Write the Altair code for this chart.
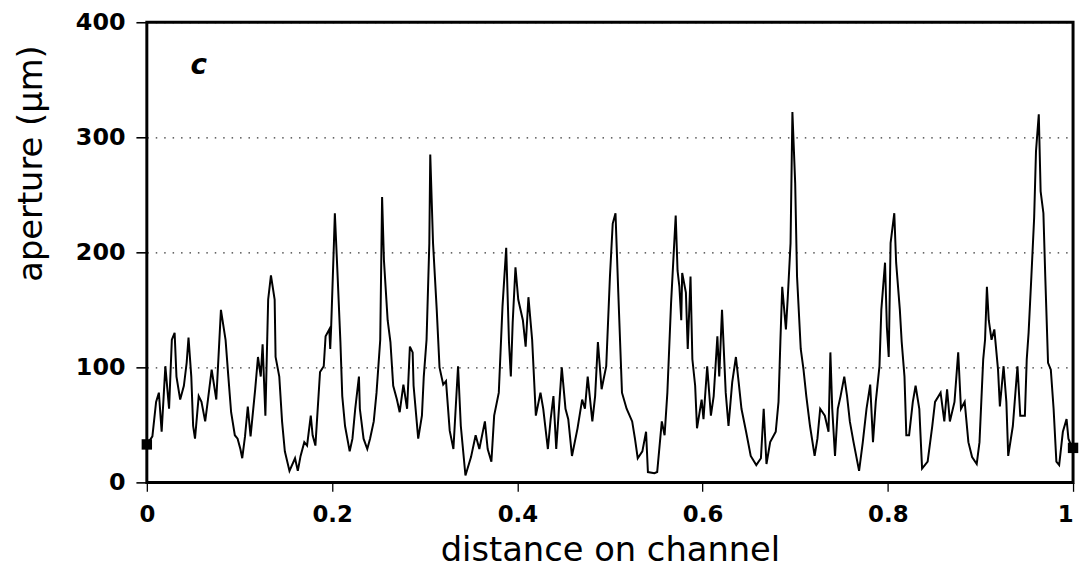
import altair as alt
import pandas as pd

# distance on channel (fraction) and aperture (um)
dist = [
    0.000, 0.002, 0.006, 0.010, 0.013, 0.016, 0.020, 0.024, 0.027, 0.030, 0.032, 0.036, 0.040,
    0.043, 0.045, 0.048, 0.050, 0.052, 0.056, 0.059, 0.063, 0.066, 0.070, 0.075, 0.080,
    0.085, 0.088, 0.091, 0.095, 0.098, 0.101, 0.103, 0.106, 0.109, 0.112, 0.117, 0.120,
    0.123, 0.125, 0.128, 0.131, 0.134, 0.138, 0.139, 0.143, 0.146, 0.149, 0.154, 0.160,
    0.163, 0.166, 0.170, 0.173, 0.177, 0.179, 0.182, 0.187, 0.191, 0.193, 0.197, 0.198,
    0.199, 0.202, 0.203, 0.206, 0.209, 0.211, 0.214, 0.219, 0.222, 0.225, 0.229, 0.230,
    0.234, 0.238, 0.241, 0.245, 0.248, 0.252, 0.254, 0.256, 0.260, 0.263, 0.266, 0.270,
    0.273, 0.277, 0.281, 0.284, 0.287, 0.288, 0.293, 0.297, 0.299, 0.302, 0.305, 0.306,
    0.309, 0.313, 0.316, 0.320, 0.323, 0.327, 0.331, 0.336, 0.339, 0.344, 0.350, 0.355,
    0.359, 0.365, 0.368, 0.372, 0.375, 0.380, 0.384, 0.388, 0.391, 0.393, 0.395, 0.398,
    0.401, 0.406, 0.409, 0.412, 0.416, 0.420, 0.425, 0.428, 0.433, 0.436, 0.439, 0.442,
    0.448, 0.452, 0.455, 0.459, 0.465, 0.470, 0.473, 0.476, 0.481, 0.484, 0.487, 0.491,
    0.496, 0.500, 0.503, 0.506, 0.509, 0.513, 0.518, 0.524, 0.527, 0.530, 0.535, 0.539,
    0.541, 0.548, 0.551, 0.556, 0.559, 0.562, 0.566, 0.571, 0.573, 0.575, 0.577, 0.578,
    0.582, 0.584, 0.587, 0.589, 0.592, 0.594, 0.599, 0.601, 0.605, 0.609, 0.612, 0.616,
    0.618, 0.621, 0.625, 0.628, 0.632, 0.636, 0.639, 0.642, 0.647, 0.652, 0.658, 0.663,
    0.666, 0.669, 0.673, 0.679, 0.682, 0.684, 0.686, 0.690, 0.692, 0.695, 0.697, 0.700,
    0.702, 0.706, 0.709, 0.712, 0.716, 0.721, 0.724, 0.727, 0.732, 0.736, 0.738, 0.740,
    0.743, 0.746, 0.749, 0.753, 0.756, 0.759, 0.763, 0.769, 0.773, 0.777, 0.781, 0.784,
    0.787, 0.791, 0.793, 0.797, 0.799, 0.801, 0.803, 0.807, 0.809, 0.813, 0.815, 0.818,
    0.820, 0.823, 0.827, 0.830, 0.834, 0.837, 0.843, 0.848, 0.851, 0.857, 0.861, 0.864,
    0.867, 0.872, 0.876, 0.879, 0.883, 0.887, 0.891, 0.896, 0.899, 0.903, 0.905, 0.907,
    0.909, 0.912, 0.915, 0.919, 0.921, 0.925, 0.928, 0.930, 0.935, 0.937, 0.940, 0.943,
    0.948, 0.950, 0.952, 0.955, 0.958, 0.960, 0.963, 0.965, 0.968, 0.970, 0.973, 0.976,
    0.979, 0.982, 0.985, 0.989, 0.993, 0.995, 0.998, 1.000,
]
aperture = [
    33, 35, 40, 70, 78, 44, 101, 64, 124, 130, 92, 72, 84,
    104, 126, 92, 49, 38, 75, 70, 53, 72, 98, 72, 150,
    124, 92, 61, 41, 38, 29, 21, 40, 66, 40, 81, 109,
    92, 120, 58, 159, 180, 159, 109, 92, 53, 27, 10, 21,
    10, 23, 35, 32, 58, 41, 32, 96, 101, 127, 133, 116,
    135, 208, 234, 179, 122, 75, 49, 27, 38, 64, 92, 64,
    38, 29, 38, 53, 78, 124, 248, 193, 141, 122, 84, 72,
    61, 85, 64, 118, 113, 84, 38, 58, 92, 124, 208, 285,
    208, 150, 100, 85, 88, 45, 29, 101, 49, 6, 22, 41,
    29, 53, 29, 18, 58, 78, 153, 204, 122, 92, 139, 187,
    159, 141, 118, 161, 124, 58, 78, 64, 29, 55, 75, 29,
    100, 64, 55, 23, 47, 72, 64, 92, 53, 75, 122, 81,
    101, 179, 225, 234, 165, 78, 64, 53, 38, 21, 27, 44,
    9, 8, 9, 53, 41, 78, 156, 232, 184, 170, 141, 182,
    165, 116, 179, 107, 84, 47, 72, 55, 101, 58, 75, 127,
    92, 150, 78, 49, 87, 109, 87, 64, 44, 23, 15, 21,
    64, 16, 35, 44, 70, 122, 170, 133, 161, 208, 322, 260,
    179, 116, 98, 75, 49, 23, 38, 64, 58, 44, 113, 64,
    23, 64, 75, 92, 75, 53, 35, 10, 35, 64, 85, 35,
    70, 101, 150, 191, 135, 109, 208, 234, 191, 150, 122, 92,
    41, 41, 70, 84, 64, 12, 18, 49, 70, 78, 53, 81,
    53, 70, 113, 64, 70, 35, 22, 16, 35, 107, 124, 170,
    141, 124, 133, 98, 66, 101, 70, 23, 49, 70, 101, 58,
    58, 107, 130, 179, 230, 288, 320, 253, 234, 179, 104, 98,
    64, 18, 15, 44, 55, 38, 32, 30,
]

end_x = [0.0, 1.0]
end_y = [33, 30]

x_ticks = [0, 0.2, 0.4, 0.6, 0.8, 1]
y_ticks = [0, 100, 200, 300, 400]

FONT = "DejaVu Sans"

df = pd.DataFrame({"d": dist, "a": aperture})
ends = pd.DataFrame({"d": end_x, "a": end_y})
lab = pd.DataFrame({"d": [0.056], "a": [355], "t": ["c"]})

xs = alt.Scale(domain=[0, 1], nice=False, zero=False)
ys = alt.Scale(domain=[0, 400], nice=False)

x_axis = alt.Axis(
    values=x_ticks, format="~g", title="distance on channel",
    grid=False, tickSize=9, tickColor="black", tickWidth=1.3,
    labelFont=FONT, labelFontSize=23, labelFontWeight="bold", labelColor="black",
    labelPadding=12, labelFlush=False,
    labelAlign={"expr": "datum.value == 1 ? 'right' : 'center'"},
    titleFont=FONT, titleFontSize=34, titleFontWeight="normal", titleColor="black",
    titleY=79, titleBaseline="alphabetic", domain=False,
)
y_axis = alt.Axis(
    values=y_ticks, title="aperture (μm)",
    grid=True, gridDash=[1.5, 7], gridColor="#333333", gridWidth=1.2,
    tickSize=11, tickColor="black", tickWidth=1.6,
    labelFont=FONT, labelFontSize=24, labelFontWeight="bold", labelColor="black",
    labelPadding=11, labelFlush=False,
    titleFont=FONT, titleFontSize=34, titleFontWeight="normal", titleColor="black",
    titleX=-116, titleY=142, titleAngle=270, titleAlign="center", titleBaseline="middle",
    domain=False,
)

base = alt.Chart(df)
line = base.mark_line(color="black", strokeWidth=2).encode(
    x=alt.X("d:Q", scale=xs, axis=x_axis),
    y=alt.Y("a:Q", scale=ys, axis=y_axis),
)
sq = alt.Chart(ends).mark_square(color="black", size=110, opacity=1).encode(
    x=alt.X("d:Q", scale=xs), y=alt.Y("a:Q", scale=ys)
)
txt = alt.Chart(lab).mark_text(
    text="c", font=FONT, fontSize=28, fontStyle="italic", fontWeight="bold",
    align="center", baseline="alphabetic", color="black",
).encode(x=alt.X("d:Q", scale=xs), y=alt.Y("a:Q", scale=ys))
frame = alt.Chart(lab).mark_rect(filled=False, stroke="black", strokeWidth=3).encode(
    x=alt.value(0), x2=alt.value(934), y=alt.value(0), y2=alt.value(464)
)

chart = alt.layer(line, sq, txt, frame).properties(
    width=934, height=464,
    autosize=alt.AutoSizeParams(type="none"),
    padding={"left": 140, "top": 12, "right": 6, "bottom": 90},
).configure_view(
    stroke=None,
)

chart.save("out.html", embed_options={"renderer": "svg", "actions": False})
